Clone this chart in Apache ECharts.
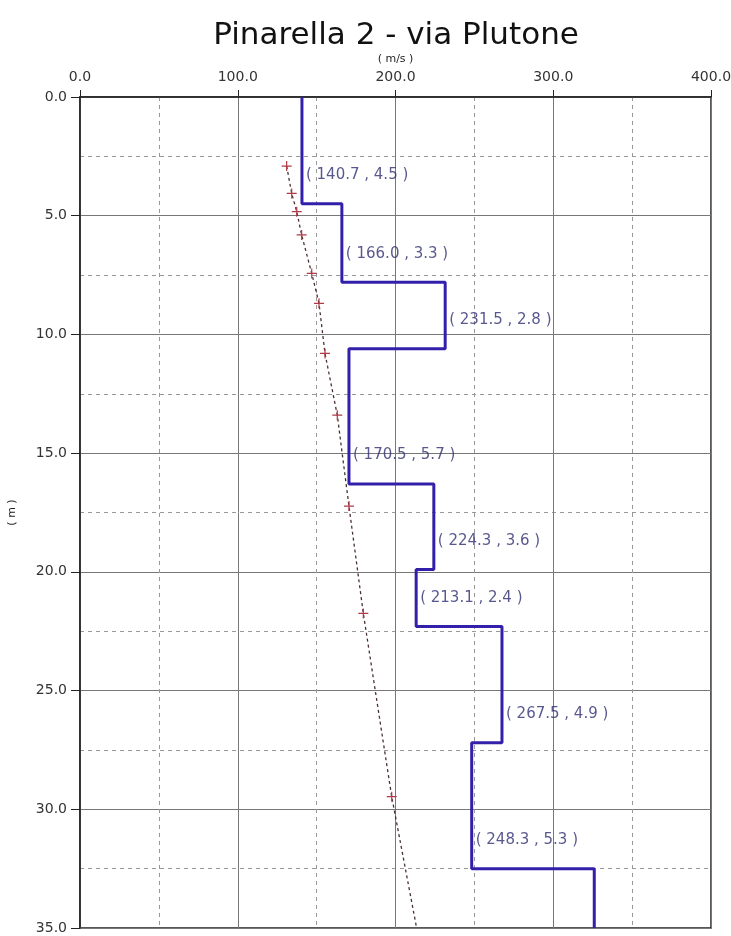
<!DOCTYPE html>
<html>
<head>
<meta charset="utf-8">
<script src="https://cdn.jsdelivr.net/npm/echarts@6/dist/echarts.min.js"></script>
<style>
  html, body { margin: 0; padding: 0; background: #fff; }
  #chart { width: 731px; height: 936px; }
</style>
</head>
<body>
<div id="chart"></div>
<script>
  // layer velocities (m/s) and thicknesses (m); last layer runs to the bottom
  const layerVel = [140.7, 166.0, 231.5, 170.5, 224.3, 213.1, 267.5, 248.3, 326.0]
  const layerThick = [4.5, 3.3, 2.8, 5.7, 3.6, 2.4, 4.9, 5.3]
  const maxDepth = 35

  // dispersion / trend points (velocity, depth)
  const trendVel = [131.0, 134.2, 137.4, 140.5, 146.9, 151.5, 155.3, 163.1, 170.5, 179.6, 197.6]
  const trendDepth = [2.91, 4.06, 4.83, 5.81, 7.43, 8.69, 10.8, 13.4, 17.23, 21.75, 29.47]
  const trendEnd = [213.4, 35.0]

  const font = 'DejaVu Sans, Verdana, sans-serif'

  // build step profile
  let stepData = []
  let labelData = []
  let layerTop = 0
  layerVel.forEach((v, i) => {
    let layerBottom = i < layerThick.length ? layerTop + layerThick[i] : maxDepth
    stepData.push([v, layerTop])
    stepData.push([v, layerBottom])
    if (i < layerThick.length) {
      labelData.push({
        value: [v, layerBottom - 1.2],
        label: { formatter: '( ' + v.toFixed(1) + ' , ' + layerThick[i].toFixed(1) + ' )' },
      })
    }
    layerTop = layerBottom
  })

  let trendData = trendVel.map((v, i) => [v, trendDepth[i]])
  trendData.push({ value: trendEnd, symbol: 'none' })

  const plusSymbol = 'path://M0,4.4H10V5.6H0Z M4.4,0H5.6V10H4.4Z'

  const chart = echarts.init(document.getElementById('chart'))
  chart.setOption({
    backgroundColor: '#fff',
    animation: false,
    title: {
      text: 'Pinarella 2 - via Plutone',
      left: 391,
      textAlign: 'center',
      top: 15,
      textStyle: {
        fontFamily: font,
        fontSize: 31,
        fontWeight: 'normal',
        color: '#111',
      },
    },
    grid: {
      left: 80,
      right: 20,
      top: 97,
      bottom: 8,
      outerBoundsMode: 'none',
      show: true,
      borderColor: '#222',
      borderWidth: 1.5,
    },
    xAxis: {
      type: 'value',
      position: 'top',
      min: 0,
      max: 400,
      interval: 100,
      name: '( m/s )',
      nameLocation: 'middle',
      nameGap: 32,
      nameTextStyle: { fontFamily: font, fontSize: 11, color: '#222' },
      axisLine: { show: true, lineStyle: { color: '#222', width: 1.5 } },
      axisTick: { show: true, length: 7, lineStyle: { color: '#222' } },
      axisLabel: {
        margin: 13,
        fontFamily: font,
        fontSize: 14,
        color: '#333',
        formatter: (v) => v.toFixed(1),
      },
      splitLine: { show: true, lineStyle: { color: '#777', width: 1 } },
      minorTick: { show: false, splitNumber: 2 },
      minorSplitLine: { show: true, lineStyle: { color: '#999', type: [4, 4], width: 1 } },
    },
    yAxis: {
      type: 'value',
      inverse: true,
      min: 0,
      max: maxDepth,
      interval: 5,
      name: '( m )',
      nameLocation: 'middle',
      nameGap: 62,
      nameTextStyle: { fontFamily: font, fontSize: 11, color: '#222' },
      axisLine: { show: true, lineStyle: { color: '#222', width: 1.5 } },
      axisTick: { show: true, length: 9, lineStyle: { color: '#222' } },
      axisLabel: {
        margin: 13,
        fontFamily: font,
        fontSize: 14,
        color: '#333',
        formatter: (v) => v.toFixed(1),
      },
      splitLine: { show: true, lineStyle: { color: '#777', width: 1 } },
      minorTick: { show: false, splitNumber: 2 },
      minorSplitLine: { show: true, lineStyle: { color: '#999', type: [4, 4], width: 1 } },
    },
    series: [
      {
        name: 'trend',
        type: 'line',
        data: trendData,
        symbol: plusSymbol,
        symbolSize: 10,
        itemStyle: { color: '#b03a48' },
        lineStyle: { color: '#4a3030', width: 1.3, type: [3, 3] },
        z: 2,
      },
      {
        name: 'profile',
        type: 'line',
        data: stepData,
        symbol: 'none',
        lineStyle: { color: '#3320aa', width: 3 },
        z: 3,
      },
      {
        name: 'labels',
        type: 'scatter',
        data: labelData,
        symbolSize: 0,
        label: {
          show: true,
          position: 'right',
          distance: 4,
          fontFamily: font,
          fontSize: 15,
          color: '#2e2e72',
        },
        z: 4,
      },
    ],
  })
</script>
</body>
</html>
